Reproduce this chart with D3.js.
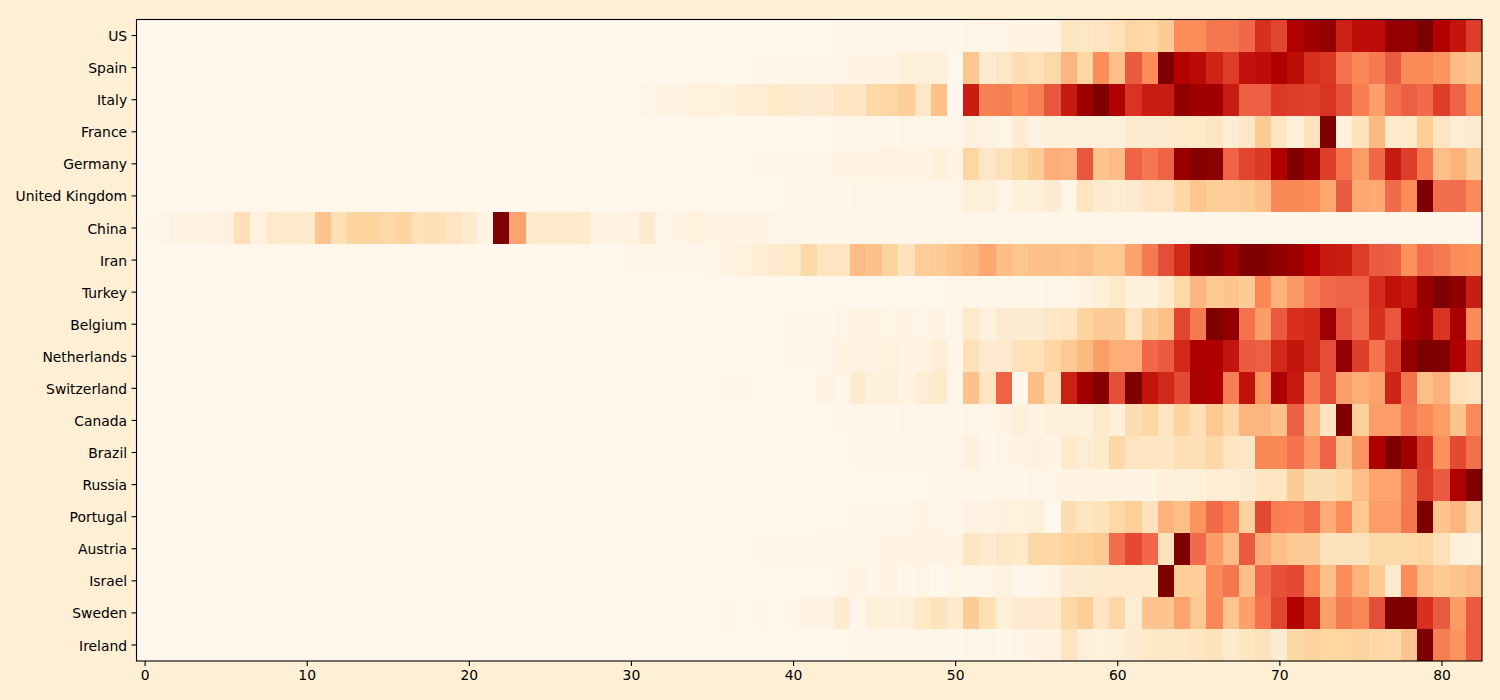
<!DOCTYPE html>
<html>
<head>
<meta charset="utf-8">
<script src="https://cdn.jsdelivr.net/npm/d3@7"></script>
<style>
  html, body { margin: 0; padding: 0; background: #ffefd5; }
  text { font-family: "DejaVu Sans", sans-serif; }
</style>
</head>
<body>
<svg id="chart"></svg>
<script>
const countries = ["US", "Spain", "Italy", "France", "Germany", "United Kingdom", "China", "Iran", "Turkey", "Belgium",
  "Netherlands", "Switzerland", "Canada", "Brazil", "Russia", "Portugal", "Austria", "Israel", "Sweden", "Ireland"];
const xTicks = [0, 10, 20, 30, 40, 50, 60, 70, 80];

// share of each country's peak, in percent, one column per day
const us = [0,0,0,0,0,0,0,0,0,0, 0,0,0,0,0,0,0,0,0,0, 0,0,0,0,0,0,0,0,0,0, 0,0,0,0,0,0,0,0,0,0, 0,0,0,1,1,1,1,1,1,1, 1,2,2,2,3,3,3,14,13,15, 17,24,22,29,50,50,57,57,62,75, 70,88,92,95,79,84,84,95,95,100, 87,82,72];
const spain = [0,0,0,0,0,0,0,0,0,0, 0,0,0,0,0,0,0,0,0,0, 0,0,0,0,0,0,0,0,0,0, 0,0,0,0,0,0,0,0,1,1, 1,1,1,1,3,3,3,6,7,7, 0,32,10,13,19,17,22,39,24,50, 35,65,50,100,87,85,78,72,83,84, 88,84,75,73,58,52,56,65,51,51, 48,37,33];
const italy = [0,0,0,0,0,0,0,0,0,0, 0,0,0,0,0,0,0,0,0,0, 0,0,0,0,0,0,0,0,0,0, 0,1,4,3,5,5,6,8,8,12, 10,9,11,14,14,22,24,28,13,35, 0,80,54,55,50,54,66,81,93,100, 88,74,80,80,96,92,92,80,64,64, 73,72,71,74,67,55,45,59,64,61, 72,63,48];
const france = [0,0,0,0,0,0,0,0,0,0, 0,0,0,0,0,0,0,0,0,0, 0,0,0,0,0,0,0,0,0,0, 0,0,0,0,0,0,0,0,0,0, 0,0,0,1,1,1,1,2,2,2, 2,5,4,2,9,4,6,6,6,6, 6,11,9,10,12,12,14,8,13,30, 14,6,16,100,5,16,38,11,12,28, 15,8,11];
const germany = [0,0,0,0,0,0,0,0,0,0, 0,0,0,0,0,0,0,0,0,0, 0,0,0,0,0,0,0,0,0,0, 0,0,0,0,0,0,0,0,1,1, 1,1,1,3,3,3,4,4,3,6, 3,24,13,17,22,29,41,40,66,33, 37,63,57,63,94,98,97,63,70,73, 88,100,93,72,58,46,62,81,72,57, 36,40,29];
const uk = [0,0,0,0,0,0,0,0,0,0, 0,0,0,0,0,0,0,0,0,0, 0,0,0,0,0,0,0,0,0,0, 0,0,0,0,0,0,0,0,0,0, 1,1,1,1,2,2,2,2,2,2, 2,7,7,2,6,6,9,2,15,10, 8,10,15,15,23,32,28,28,29,35, 52,52,50,43,65,43,42,61,50,100, 60,60,51];
const china = [1,1,3,4,4,5,17,5,12,11, 11,33,18,25,25,22,25,16,18,15, 11,4,100,44,11,11,11,11,4,4, 4,10,1,3,5,3,3,3,3,2, 2,1,1,1,1,1,1,1,1,1, 1,1,1,1,1,1,1,1,1,1, 1,1,1,1,1,1,1,1,1,1, 1,1,1,1,1,1,1,1,1,1, 1,1,1];
const iran = [0,0,0,0,0,0,0,0,0,0, 0,0,0,0,0,0,0,0,0,0, 0,0,0,0,0,0,0,0,0,0, 1,1,1,1,1,2,4,5,8,11, 12,22,15,15,37,34,25,16,28,29, 33,38,43,37,32,35,35,33,36,30, 31,44,56,68,77,96,98,93,100,99, 96,93,87,81,80,72,65,64,49,60, 56,50,49];
const turkey = [0,0,0,0,0,0,0,0,0,0, 0,0,0,0,0,0,0,0,0,0, 0,0,0,0,0,0,0,0,0,0, 0,0,0,0,0,0,0,0,0,0, 0,0,0,0,0,0,0,0,0,0, 1,1,1,1,1,1,2,2,4,7, 12,5,6,12,22,39,31,33,29,52, 40,47,55,61,63,63,76,83,81,94, 100,96,80];
const belgium = [0,0,0,0,0,0,0,0,0,0, 0,0,0,0,0,0,0,0,0,0, 0,0,0,0,0,0,0,0,0,0, 0,0,0,0,0,0,0,0,0,0, 1,1,1,2,4,4,2,3,2,3, 1,12,5,9,9,9,13,14,25,29, 29,15,29,35,70,56,100,96,58,46, 65,75,77,93,68,61,75,66,88,93, 74,90,51];
const netherlands = [0,0,0,0,0,0,0,0,0,0, 0,0,0,0,0,0,0,0,0,0, 0,0,0,0,0,0,0,0,0,0, 0,0,0,0,0,0,0,0,0,0, 1,1,1,4,4,4,5,3,3,8, 1,17,10,10,17,17,24,30,38,46, 41,41,62,65,77,89,88,82,65,64, 77,82,77,68,95,72,58,72,95,100, 99,88,72];
const switzerland = [0,0,0,0,0,0,0,0,0,0, 0,0,0,0,0,0,0,0,0,0, 0,0,0,0,0,0,0,0,0,0, 0,0,0,0,0,0,1,1,0,0, 0,0,3,2,9,5,7,3,8,11, 1,34,15,63,0,36,18,79,92,98, 68,100,82,77,69,90,88,55,83,49, 89,81,56,68,45,41,44,78,58,35, 40,17,15];
const canada = [0,0,0,0,0,0,0,0,0,0, 0,0,0,0,0,0,0,0,0,0, 0,0,0,0,0,0,0,0,0,0, 0,0,0,0,0,0,0,0,0,0, 0,0,0,1,1,1,1,2,1,1, 1,2,1,3,7,3,6,6,6,12, 6,19,24,15,25,18,31,23,39,39, 34,64,39,15,100,27,46,46,56,51, 46,33,51];
const brazil = [0,0,0,0,0,0,0,0,0,0, 0,0,0,0,0,0,0,0,0,0, 0,0,0,0,0,0,0,0,0,0, 0,0,0,0,0,0,0,0,0,0, 0,0,0,0,1,1,1,1,1,1, 1,5,1,2,3,5,3,12,8,11, 23,15,14,14,18,18,23,15,13,52, 52,58,47,63,34,48,88,100,92,73, 49,69,59];
const russia = [0,0,0,0,0,0,0,0,0,0, 0,0,0,0,0,0,0,0,0,0, 0,0,0,0,0,0,0,0,0,0, 0,0,0,0,0,0,0,0,0,0, 0,0,0,0,0,0,0,0,0,1, 1,1,1,1,1,2,2,3,3,3, 3,3,3,6,7,7,8,8,9,14, 14,29,19,19,23,36,44,44,57,72, 65,88,100];
const portugal = [0,0,0,0,0,0,0,0,0,0, 0,0,0,0,0,0,0,0,0,0, 0,0,0,0,0,0,0,0,0,0, 0,0,0,0,0,0,0,0,0,0, 0,0,0,0,1,1,1,1,3,2, 1,4,3,5,5,7,0,19,14,16, 22,27,16,40,35,48,61,53,26,69, 55,53,59,41,50,31,46,46,57,100, 33,39,23];
const austria = [0,0,0,0,0,0,0,0,0,0, 0,0,0,0,0,0,0,0,0,0, 0,0,0,0,0,0,0,0,0,0, 0,0,0,0,0,0,0,0,1,1, 1,1,2,2,2,2,3,3,4,3, 3,14,10,13,12,23,23,26,27,31, 60,69,62,16,100,61,46,37,65,41, 36,29,29,16,16,16,22,22,22,24, 17,7,5];
const israel = [0,0,0,0,0,0,0,0,0,0, 0,0,0,0,0,0,0,0,0,0, 0,0,0,0,0,0,0,0,0,0, 0,0,0,0,0,0,0,0,0,0, 0,0,0,2,3,2,3,1,2,0, 2,2,2,4,1,1,3,9,9,11, 11,11,11,100,28,28,51,57,36,61, 67,69,51,35,50,40,30,11,50,36, 29,33,37];
const sweden = [0,0,0,0,0,0,0,0,0,0, 0,0,0,0,0,0,0,0,0,0, 0,0,0,0,0,0,0,0,0,0, 0,0,0,0,0,0,1,0,1,0, 1,3,3,9,1,7,6,7,12,16, 11,29,18,7,10,10,11,22,28,15, 23,8,33,33,44,31,52,33,45,58, 70,87,77,45,56,52,68,100,100,75, 65,46,65];
const ireland = [0,0,0,0,0,0,0,0,0,0, 0,0,0,0,0,0,0,0,0,0, 0,0,0,0,0,0,0,0,0,0, 0,0,0,0,0,0,0,0,0,0, 0,0,0,0,1,1,1,1,1,1, 1,2,2,1,2,3,3,15,7,5, 7,9,12,13,13,14,16,10,14,16, 9,23,26,24,24,25,23,22,33,100, 55,48,65];

const rows = [us, spain, italy, france, germany, uk, china, iran, turkey, belgium,
  netherlands, switzerland, canada, brazil, russia, portugal, austria, israel, sweden, ireland];

const width = 1500, height = 700;
const margin = { top: 19.5, right: 18, bottom: 39, left: 136.5 };

const svg = d3.select("#chart").attr("width", width).attr("height", height)
  .style("display", "block");

const x = d3.scaleLinear().domain([-0.5, 82.5]).range([margin.left, width - margin.right]);
const y = d3.scaleBand().domain(countries).range([margin.top, height - margin.bottom]);

// same stops as the OrRd colormap
const color = d3.scaleLinear()
  .domain(d3.range(9).map(i => i * 12.5))
  .range(["#fff7ec", "#fee8c8", "#fdd49e", "#fdbb84", "#fc8d59", "#ef6548", "#d7301f", "#b30000", "#7f0000"]);

const cells = rows.flatMap((row, i) => row.map((v, j) => ({ country: countries[i], day: j, v })));

svg.append("g")
  .selectAll("rect")
  .data(cells)
  .join("rect")
  .attr("x", d => x(d.day - 0.5))
  .attr("y", d => y(d.country))
  .attr("width", x(1) - x(0) + 0.3)
  .attr("height", y.bandwidth() + 0.3)
  .attr("shape-rendering", "crispEdges")
  .attr("fill", d => color(d.v));

const xAxis = svg.append("g")
  .attr("transform", `translate(0,${height - margin.bottom})`)
  .call(d3.axisBottom(x).tickValues(xTicks).tickSize(4.9).tickPadding(4.5).tickSizeOuter(0));
const yAxis = svg.append("g")
  .attr("transform", `translate(${margin.left},0)`)
  .call(d3.axisLeft(y).tickSize(4.9).tickPadding(4.5).tickSizeOuter(0));

[xAxis, yAxis].forEach(a => {
  a.selectAll("text").style("font-size", "13.9px").attr("fill", "#000");
  a.selectAll("line").attr("stroke-width", 1.1);
  a.select(".domain").remove();
});
yAxis.selectAll("text").attr("dy", "0.4em");

svg.append("rect")
  .attr("x", margin.left)
  .attr("y", margin.top)
  .attr("width", width - margin.left - margin.right)
  .attr("height", height - margin.top - margin.bottom)
  .attr("fill", "none")
  .attr("stroke", "#000")
  .attr("stroke-width", 1.1);
</script>
</body>
</html>
